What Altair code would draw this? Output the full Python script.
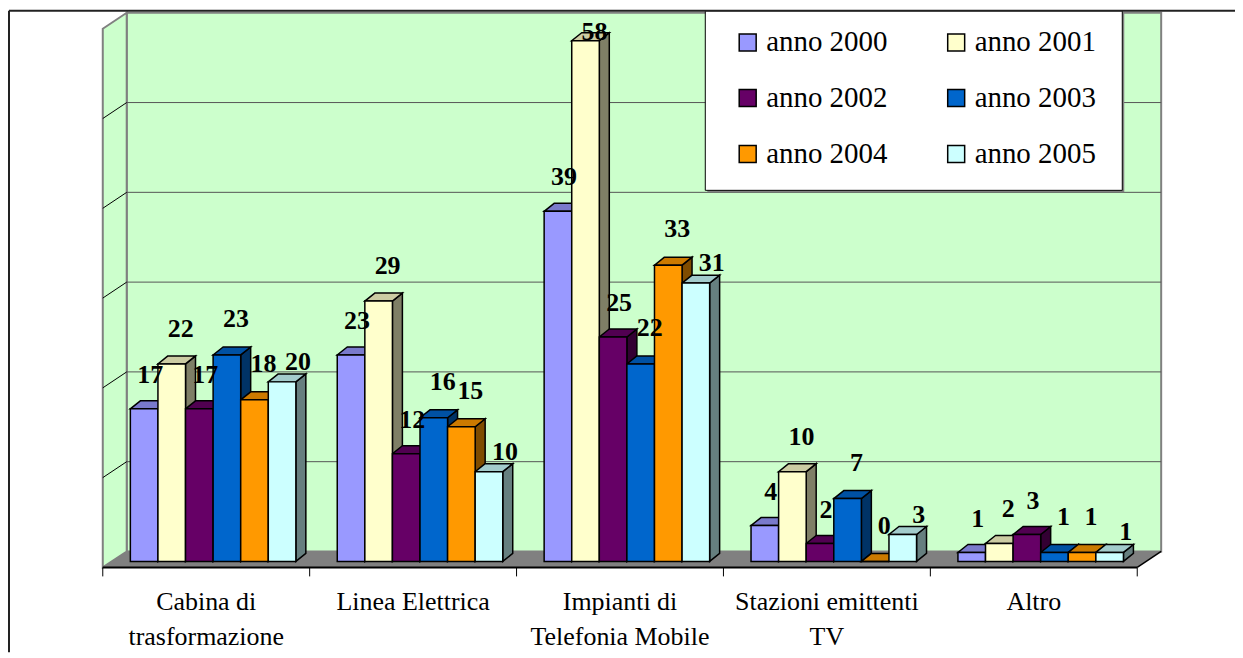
import altair as alt
import pandas as pd

# ---------------- data ----------------
categories = ["Cabina di\ntrasformazione", "Linea Elettrica", "Impianti di\nTelefonia Mobile",
              "Stazioni emittenti\nTV", "Altro"]
series = ["anno 2000", "anno 2001", "anno 2002", "anno 2003", "anno 2004", "anno 2005"]
v2000 = [17, 23, 39, 4, 1]
v2001 = [22, 29, 58, 10, 2]
v2002 = [17, 12, 25, 2, 3]
v2003 = [23, 16, 22, 7, 1]
v2004 = [18, 15, 33, 0, 1]
v2005 = [20, 10, 31, 3, 1]
values = [v2000, v2001, v2002, v2003, v2004, v2005]
gridlines = [10, 20, 30, 40, 50]

# ---------------- style ----------------
FONT = "Liberation Serif"
front_colors = ["#9999FF", "#FFFFCC", "#660066", "#0066CC", "#FF9900", "#CCFFFF"]


def shade(hexc, f):
    r, g, b = int(hexc[1:3], 16), int(hexc[3:5], 16), int(hexc[5:7], 16)
    return "#%02X%02X%02X" % (int(r * f), int(g * f), int(b * f))


top_colors = [shade(c, 0.8) for c in front_colors]
side_colors = [shade(c, 0.5) for c in front_colors]

W, H = 1230, 645
PX_X = 207.4          # pixels per category on the x scale
PX_Y = 9.0            # pixels per unit on the y scale
BW = 2 / 15           # bar width (category units)
DX = 10 / PX_X        # bar depth, x
DY = 8 / PX_Y         # bar depth, y
BX = 24 / PX_X        # back wall offset, x
BY = 10 / PX_Y        # back wall zero
FY = -6 / PX_Y        # front edge of floor
TOP = 60 + BY
LBL_DX = [6, 9, 6, 9, 9, 16]      # label offsets (px) per series
LBL_DY = [34, 35, 34, 36, 36, 20]

xs = alt.Scale(domain=[0, 5], range=[95, 1132], nice=False, zero=False)
ys = alt.Scale(domain=[0, 60], range=[554, 14], nice=False, zero=False)


def X(f):
    return alt.X(f, type="quantitative", scale=xs, axis=None)


def Y(f):
    return alt.Y(f, type="quantitative", scale=ys, axis=None)


one = pd.DataFrame({"a": [0]})

# ---------------- frame ----------------
frame_top = alt.Chart(one).mark_rule(color="#222222", strokeWidth=2).encode(
    x=alt.value(1), x2=alt.value(W), y=alt.value(2), y2=alt.value(2))
frame_left = alt.Chart(one).mark_rule(color="#222222", strokeWidth=2).encode(
    x=alt.value(1), x2=alt.value(1), y=alt.value(2), y2=alt.value(H))

# ---------------- walls ----------------
wall_df = pd.DataFrame({"x0": [BX], "x1": [5 + BX], "y0": [BY], "y1": [TOP]})
back_wall = alt.Chart(wall_df).mark_rect(fill="#CCFFCC", stroke="#808080", strokeWidth=2).encode(
    x=X("x0"), x2="x1", y=Y("y0"), y2="y1")

lw_df = pd.DataFrame({"x": [0, BX], "y": [TOP - (BY - FY), TOP], "y2": [FY, BY]})
left_wall = alt.Chart(lw_df).mark_area(orient="vertical", fill="#CCFFCC", stroke="#808080",
                                       strokeWidth=2).encode(x=X("x"), y=Y("y"), y2="y2")

grid_df = pd.DataFrame({"y": [g + BY for g in gridlines], "x0": BX, "x1": 5 + BX})
grid = alt.Chart(grid_df).mark_rule(color="#555555", strokeWidth=1).encode(
    x=X("x0"), x2="x1", y=Y("y"))

diag_rows = []
for g in gridlines:
    diag_rows.append({"k": g, "x": 0, "y": g + BY - (BY - FY)})
    diag_rows.append({"k": g, "x": BX, "y": g + BY})
diag = alt.Chart(pd.DataFrame(diag_rows)).mark_line(color="black", strokeWidth=1).encode(
    x=X("x"), y=Y("y"), detail="k:N")

floor_df = pd.DataFrame({"y": [FY, BY], "x": [0, BX], "x2": [5, 5 + BX]})
floor = alt.Chart(floor_df).mark_area(orient="horizontal", fill="#808080").encode(
    y=Y("y"), x=X("x"), x2="x2")

front_edge = alt.Chart(pd.DataFrame({"x0": [0], "x1": [5], "y": [FY]})).mark_rule(
    color="black", strokeWidth=2).encode(x=X("x0"), x2="x1", y=Y("y"))
right_edge = alt.Chart(pd.DataFrame({"x": [5, 5 + BX], "y": [FY, BY]})).mark_line(
    color="black", strokeWidth=1.5).encode(x=X("x"), y=Y("y"))
ticks = alt.Chart(pd.DataFrame({"x": list(range(6)), "y": FY, "y2": FY - 9 / PX_Y})).mark_rule(
    color="black", strokeWidth=1).encode(x=X("x"), y=Y("y"), y2="y2")

# ---------------- bars ----------------
side_rows, top_rows, front_rows, label_rows = [], [], [], []
for i in range(len(categories)):
    for k, s in enumerate(series):
        v = values[k][i]
        x0 = i + (k + 1) * BW
        x1 = x0 + BW
        bid = f"{i}-{k}"
        side_rows += [{"id": bid, "x": x1, "y": v, "y2": 0, "c": side_colors[k]},
                      {"id": bid, "x": x1 + DX, "y": v + DY, "y2": DY, "c": side_colors[k]}]
        top_rows += [{"id": bid, "y": v, "x": x0, "x2": x1, "c": top_colors[k]},
                     {"id": bid, "y": v + DY, "x": x0 + DX, "x2": x1 + DX, "c": top_colors[k]}]
        front_rows.append({"series": s, "x": x0, "x2": x1, "v": v, "base": 0})
        label_rows.append({"x": (x0 + x1) / 2 + LBL_DX[k] / PX_X,
                           "y": min(v + LBL_DY[k] / PX_Y, 59.0), "t": str(v)})

sides = alt.Chart(pd.DataFrame(side_rows)).mark_area(
    orient="vertical", stroke="black", strokeWidth=1.5, strokeJoin="miter").encode(
    x=X("x"), y=Y("y"), y2="y2", detail="id:N", fill=alt.Fill("c:N", scale=None))
tops = alt.Chart(pd.DataFrame(top_rows)).mark_area(
    orient="horizontal", stroke="black", strokeWidth=1.5, strokeJoin="miter").encode(
    y=Y("y"), x=X("x"), x2="x2", detail="id:N", fill=alt.Fill("c:N", scale=None))
fronts = alt.Chart(pd.DataFrame(front_rows)).mark_rect(
    stroke="black", strokeWidth=1.5, opacity=1).encode(
    x=X("x"), x2="x2", y=Y("v"), y2="base",
    color=alt.Color("series:N", scale=alt.Scale(domain=series, range=front_colors),
                    legend=alt.Legend(title=None, orient="none", legendX=727, legendY=19,
                                      columns=2, direction="horizontal",
                                      symbolType="square", symbolSize=289,
                                      symbolStrokeColor="black", symbolStrokeWidth=1.5,
                                      labelFont=FONT, labelFontSize=29,
                                      labelColor="black", labelOffset=4, rowPadding=26,
                                      columnPadding=54, padding=0, symbolOpacity=1)))

labels = alt.Chart(pd.DataFrame(label_rows)).mark_text(
    font=FONT, fontSize=26, fontWeight="bold", color="black",
    baseline="middle", align="center").encode(x=X("x"), y=Y("y"), text="t:N")

cat_df = pd.DataFrame({"cx": [i + 0.5 for i in range(len(categories))], "cat": categories})
cat_labels = alt.Chart(cat_df).mark_text(
    font=FONT, fontSize=26, color="black", lineBreak="\n", lineHeight=35,
    baseline="alphabetic", align="center").encode(x=X("cx"), y=alt.value(603), text="cat:N")

# ---------------- legend box ----------------
shadow = alt.Chart(one).mark_rect(fill="#808080").encode(
    x=alt.value(701), x2=alt.value(1119), y=alt.value(4), y2=alt.value(184))
box = alt.Chart(one).mark_rect(fill="white", stroke="black", strokeWidth=1).encode(
    x=alt.value(699), x2=alt.value(1117), y=alt.value(2), y2=alt.value(182))

chart = alt.layer(
    back_wall, left_wall, grid, diag, floor, front_edge, right_edge, ticks,
    sides, tops, fronts, labels, cat_labels, shadow, box, frame_top, frame_left
).properties(
    width=W, height=H, autosize=alt.AutoSizeParams(type="none"), padding=0,
    background="white"
).configure_view(stroke=None)

chart.save("out.html", embed_options={"renderer": "svg", "actions": False})
